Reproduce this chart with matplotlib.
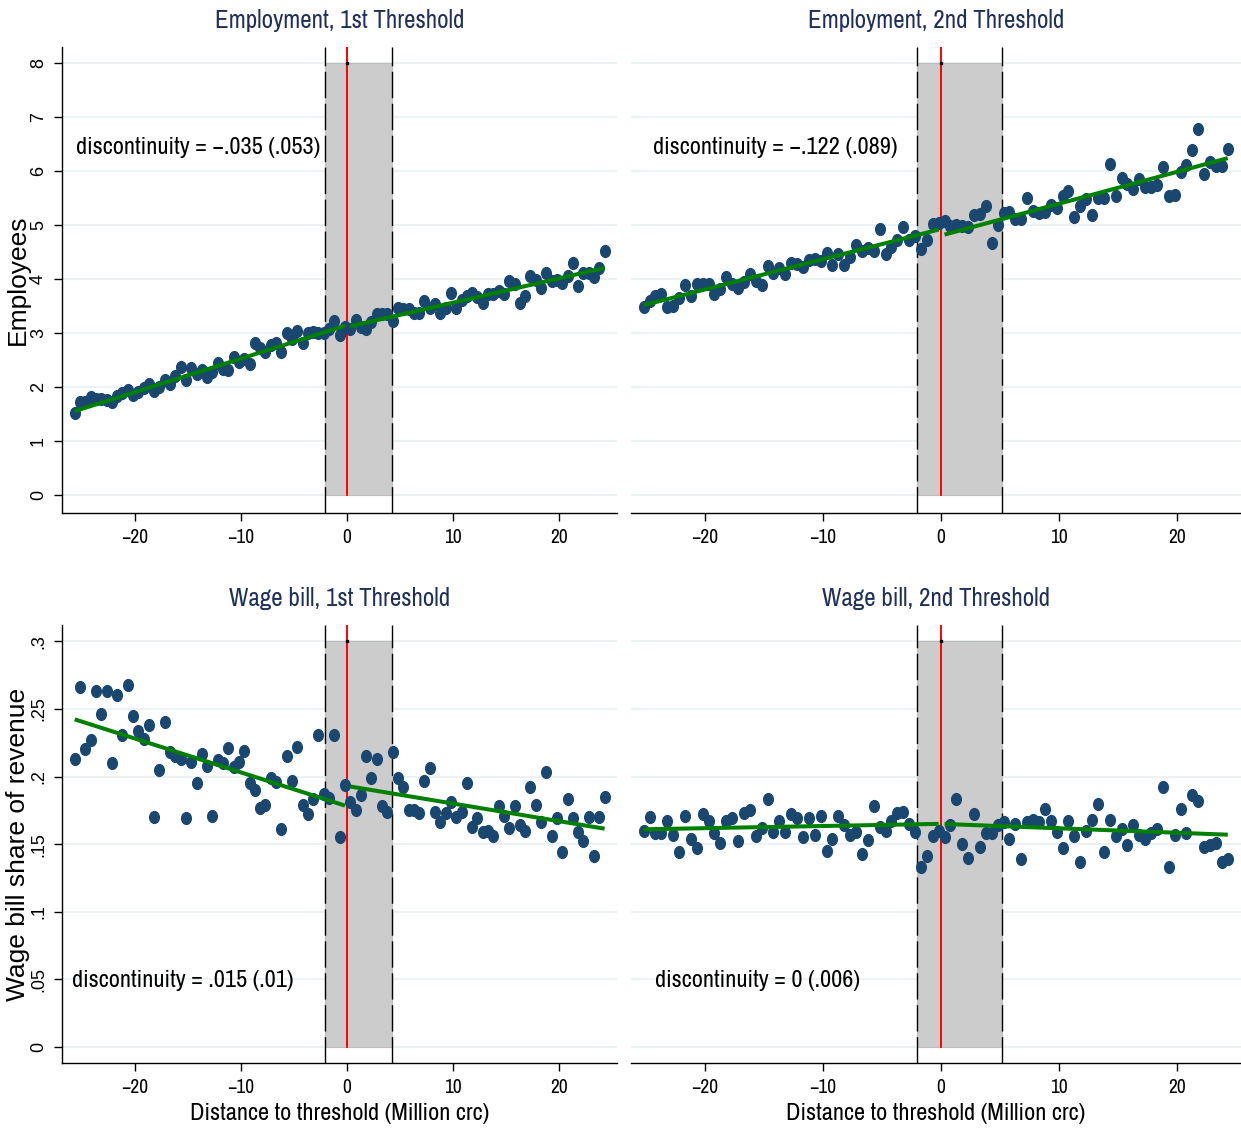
import numpy as np
import matplotlib
matplotlib.use("Agg")
import matplotlib.pyplot as plt
from matplotlib.path import Path

# bin centres (Million crc) for the two thresholds
x_first = np.round(np.arange(-25.7, 24.31, 0.5), 2)
x_second = np.round(np.arange(-25.2, 24.31, 0.5), 2)

# binned means: employees, 1st threshold
emp_first = [1.52, 1.73, 1.73, 1.82, 1.79, 1.79, 1.77, 1.73, 1.84, 1.90,
             1.94, 1.86, 1.91, 1.98, 2.06, 1.93, 2.00, 2.13, 2.06, 2.21,
             2.38, 2.13, 2.36, 2.25, 2.31, 2.19, 2.28, 2.44, 2.33, 2.31,
             2.56, 2.47, 2.53, 2.43, 2.82, 2.73, 2.65, 2.78, 2.82, 2.65,
             3.00, 2.90, 3.04, 2.82, 3.01, 3.02, 3.00, 3.00, 3.07, 3.22,
             2.96, 3.12,
             3.07, 3.25, 3.12, 3.07, 3.21, 3.36, 3.35, 3.35, 3.23, 3.46,
             3.44, 3.44, 3.38, 3.38, 3.60, 3.46, 3.54, 3.38, 3.46, 3.75,
             3.46, 3.61, 3.69, 3.75, 3.67, 3.56, 3.73, 3.72, 3.78, 3.73,
             3.96, 3.92, 3.55, 3.69, 4.06, 3.98, 3.83, 4.11, 3.96, 3.99,
             3.93, 4.06, 4.30, 3.87, 4.11, 4.11, 4.04, 4.21, 4.52]

# binned means: employees, 2nd threshold
emp_second = [3.48, 3.60, 3.69, 3.73, 3.48, 3.51, 3.65, 3.89, 3.69, 3.92,
              3.91, 3.92, 3.73, 3.81, 4.04, 3.92, 3.84, 3.95, 4.09, 3.97,
              3.89, 4.24, 4.12, 4.21, 4.09, 4.30, 4.29, 4.22, 4.36, 4.37,
              4.33, 4.49, 4.26, 4.46, 4.27, 4.41, 4.63, 4.52, 4.57, 4.52,
              4.93, 4.46, 4.60, 4.73, 4.96, 4.73, 4.80, 4.55, 4.73, 5.03,
              5.04,
              5.08, 4.98, 5.00, 4.98, 4.97, 5.19, 5.20, 5.35, 4.67, 5.00,
              5.23, 5.25, 5.11, 5.12, 5.51, 5.26, 5.22, 5.25, 5.38, 5.31,
              5.54, 5.63, 5.15, 5.36, 5.48, 5.19, 5.51, 5.51, 6.13, 5.54,
              5.88, 5.76, 5.67, 5.86, 5.71, 5.71, 5.74, 6.07, 5.54, 5.56,
              5.99, 6.11, 6.39, 6.78, 5.94, 6.17, 6.09, 6.09, 6.42]

# binned means: wage bill share of revenue, 1st threshold
wage_first = [.213, .266, .220, .227, .263, .246, .263, .210, .260, .231,
              .268, .245, .234, .228, .238, .170, .205, .240, .218, .215,
              .213, .169, .211, .195, .217, .208, .171, .212, .210, .221,
              .207, .211, .219, .195, .190, .177, .179, .199, .196, .161,
              .215, .197, .222, .179, .172, .183, .231, .187, .184, .231,
              .155, .194,
              .181, .175, .186, .215, .199, .213, .178, .174, .218, .199,
              .192, .175, .175, .173, .197, .206, .174, .166, .173, .181,
              .170, .174, .195, .163, .169, .159, .160, .156, .178, .171,
              .162, .178, .164, .160, .192, .179, .166, .203, .156, .169,
              .144, .183, .169, .159, .152, .170, .141, .170, .185]

# binned means: wage bill share of revenue, 2nd threshold
wage_second = [.160, .170, .158, .158, .167, .157, .144, .171, .154, .147,
               .172, .167, .158, .151, .167, .169, .152, .173, .175, .156,
               .162, .183, .159, .167, .159, .172, .169, .155, .169, .157,
               .171, .145, .154, .171, .164, .157, .159, .143, .153, .178,
               .163, .160, .167, .173, .174, .165, .159, .133, .141, .156,
               .160,
               .155, .164, .183, .150, .140, .172, .148, .158, .158, .164,
               .166, .154, .165, .139, .166, .168, .166, .176, .167, .159,
               .147, .167, .156, .137, .160, .168, .180, .144, .168, .156,
               .161, .149, .164, .157, .154, .158, .161, .192, .133, .157,
               .176, .158, .186, .182, .148, .149, .151, .137, .139]

# linear fits on each side: (intercept at 0, slope) left / right
fit_emp_first = [(3.150, 0.0620), (3.115, 0.0450)]
fit_emp_second = [(4.930, 0.0560), (4.808, 0.0590)]
fit_wage_first = [(0.178, -0.0025), (0.193, -0.0013)]
fit_wage_second = [(0.165, 0.00016), (0.165, -0.00033)]

disc_labels = ["discontinuity = \u2212.035 (.053)",
               "discontinuity = \u2212.122 (.089)",
               "discontinuity = .015 (.01)",
               "discontinuity = 0 (.006)"]
titles = ["Employment, 1st Threshold", "Employment, 2nd Threshold",
          "Wage bill, 1st Threshold", "Wage bill, 2nd Threshold"]

# bunching window around each threshold
window_first = (-2.1, 4.2)
window_second = (-2.05, 5.15)

W, H = 1241, 1131
NARROW = ['Archivo Narrow', 'DejaVu Sans']
REG = ['Liberation Sans', 'DejaVu Sans']
NAVY = '#1a476f'
TITLE_C = '#1e2f5a'

fig = plt.figure(figsize=(W / 100, H / 100), dpi=100)


def box(l, t, r, b):
    return [l / W, 1 - b / H, (r - l) / W, (b - t) / H]


# slightly tall ellipse marker
circ = Path.unit_circle()
dot = Path(circ.vertices * np.array([0.82, 1.0]), circ.codes)

panels = [
    (box(62, 47, 617, 513), x_first, emp_first, fit_emp_first, window_first,
     (-26.9, 25.47), (-0.33, 8.3), 8, 6.44, -25.6),
    (box(631, 47, 1241, 513), x_second, emp_second, fit_emp_second, window_second,
     (-26.27, 25.42), (-0.33, 8.3), 8, 6.44, -24.4),
    (box(62, 625, 617, 1063), x_first, wage_first, fit_wage_first, window_first,
     (-26.9, 25.47), (-0.0118, 0.312), 0.3, 0.0495, -26.0),
    (box(631, 625, 1241, 1063), x_second, wage_second, fit_wage_second, window_second,
     (-26.27, 25.42), (-0.0118, 0.312), 0.3, 0.0495, -24.2),
]

for i, (rect, xs, ys, fit, win, xl, yl, top, ty, tx) in enumerate(panels):
    ax = fig.add_axes(rect)
    xs = np.asarray(xs)
    ys = np.asarray(ys)
    ax.set_xlim(*xl)
    ax.set_ylim(*yl)

    if i < 2:
        yt = [0, 1, 2, 3, 4, 5, 6, 7, 8]
        ytl = [str(v) for v in yt]
    else:
        yt = [0, .05, .1, .15, .2, .25, .3]
        ytl = ['0', '.05', '.1', '.15', '.2', '.25', '.3']
    for v in yt:
        ax.axhline(v, color='#eaf2f3', lw=1.5, zorder=0)

    # shaded window and its dashed borders
    ax.fill_between(win, 0, top, color='#cccccc', edgecolor='#bdbdbd',
                    lw=0.8, zorder=1)
    for xv in win:
        ax.axvline(xv, color='black', lw=1.0, dashes=(19, 4), zorder=2)
    ax.plot([0, 0], [0, yl[1]], color='#ff0000', lw=1.4, zorder=2)
    ax.plot([0], [top], 's', color='black', ms=2, zorder=3)

    ax.plot(xs, ys, linestyle='none', marker=dot, ms=8.5, color=NAVY,
            mec=NAVY, zorder=4)

    left = xs[xs < 0]
    right = xs[xs > 0]
    (a0, b0), (a1, b1) = fit
    xa = np.array([left.min(), left.max()])
    xb = np.array([right.min(), right.max()])
    ax.plot(xa, a0 + b0 * xa, color='#008000', lw=2.9, zorder=5,
            solid_capstyle='butt')
    ax.plot(xb, a1 + b1 * xb, color='#008000', lw=2.9, zorder=5,
            solid_capstyle='butt')

    ax.text(tx, ty, disc_labels[i], ha='left', va='center', fontsize=17.5,
            family=NARROW, color='black', zorder=6)

    for s in ['top', 'right']:
        ax.spines[s].set_visible(False)
    ax.spines['bottom'].set_linewidth(1.0)
    ax.set_xticks([-20, -10, 0, 10, 20])
    ax.tick_params(axis='x', length=5.8, width=1.0, pad=5, labelsize=14)
    for lab in ax.get_xticklabels():
        lab.set_family(NARROW)
    if i % 2 == 0:
        ax.spines['left'].set_linewidth(1.0)
        ax.set_yticks(yt)
        ax.set_yticklabels(ytl, rotation=90, va='center', family=REG,
                           fontsize=13)
        ax.tick_params(axis='y', length=5.8, width=1.0, pad=5)
    else:
        ax.spines['left'].set_visible(False)
        ax.set_yticks([])

    cx = (rect[0] + rect[2] / 2)
    title_y = 20 if i < 2 else 598
    fig.text(cx, 1 - title_y / H, titles[i], ha='center', va='center',
             fontsize=18, family=NARROW, color=TITLE_C)
    if i >= 2:
        fig.text(cx, 1 - 1113 / H, 'Distance to threshold (Million crc)',
                 ha='center', va='center', fontsize=17.5, family=NARROW)

fig.text(18 / W, 1 - 280 / H, 'Employees', rotation=90, ha='center',
         va='center', fontsize=19, family=REG)
fig.text(18 / W, 1 - 844 / H, 'Wage bill share of revenue', rotation=90,
         ha='center', va='center', fontsize=19, family=REG)

fig.savefig('out.png', dpi=100, facecolor='white')
